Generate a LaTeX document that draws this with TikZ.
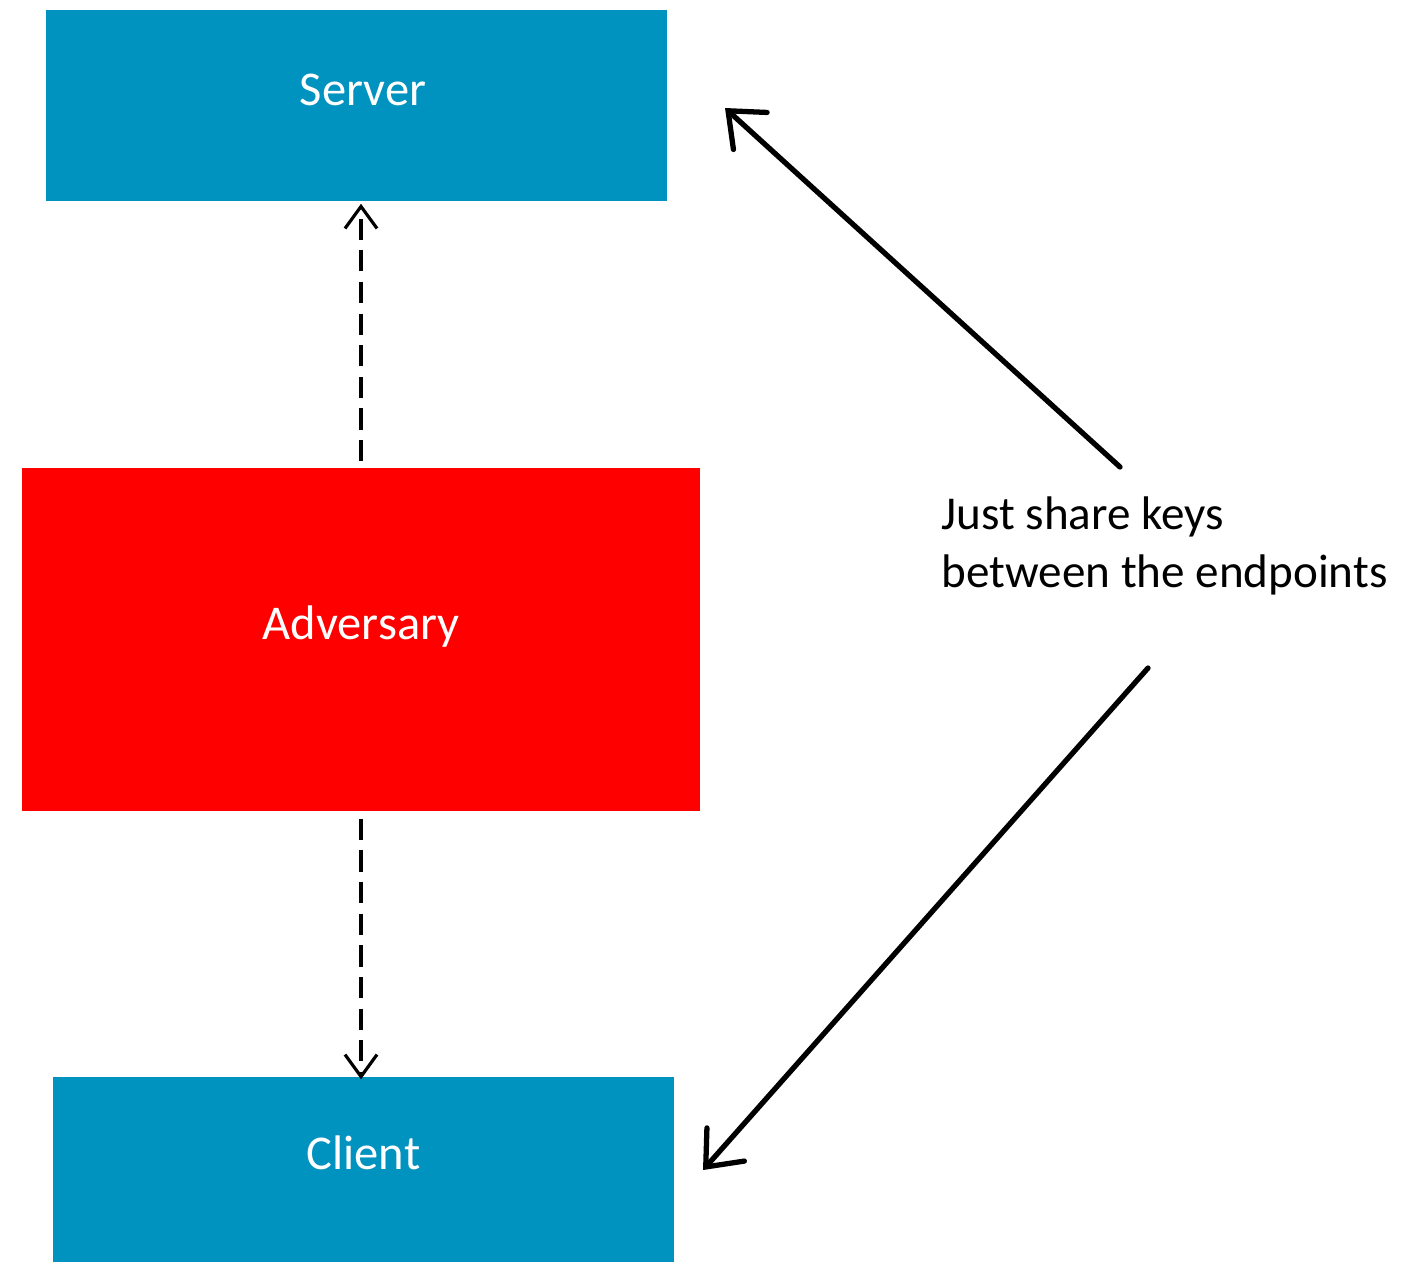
\documentclass[tikz,border=0pt]{standalone}
\usepackage{fontspec}
\setmainfont{Carlito}
\usetikzlibrary{arrows.meta}
\definecolor{boxblue}{HTML}{0093BF}

\begin{document}
\begin{tikzpicture}[x=0.01cm,y=-0.01cm,
        box/.style={draw=none,inner sep=0pt,text=white,font=\fontsize{13.8}{16}\selectfont,
            text height=10pt,text depth=10pt},
        link/.style={dashed,dash pattern=on 6pt off 3pt,line width=0.9pt,-{Straight Barb[length=2.2mm,width=3.2mm]}},
        share/.style={line width=1.5pt,line cap=round,-{Straight Barb[length=3mm,width=5mm,line cap=round]}}]
        \useasboundingbox (0,0) rectangle (1404,1263);
        \node[box,fill=boxblue,minimum width=6.21cm,minimum height=1.91cm] (server) at (356.5,105.5) {\hspace*{0.13cm}Server};
        \node[box,fill=red,minimum width=6.78cm,minimum height=3.43cm] (adversary) at (361,639.5) {Adversary};
        \node[box,fill=boxblue,minimum width=6.21cm,minimum height=1.85cm] (client) at (363.5,1169.5) {Client};
        \node[anchor=west,align=left,inner sep=0pt,font=\fontsize{13.4}{16.5}\selectfont] (note) at (941,546) {Just share keys\\between the endpoints};
        \draw[link] ([yshift=0.06cm]adversary.north) -- ([yshift=-0.02cm]adversary.north |- server.south);
        \draw[link] ([yshift=-0.07cm]adversary.south) -- ([yshift=-0.03cm]adversary.south |- client.north);
        \coordinate (up) at (1120,467);
        \coordinate (down) at (1148,668);
        \draw[share] (up) -- (725,108);
        \draw[share] (down) -- (703,1170);
    \end{tikzpicture}
\end{document}
